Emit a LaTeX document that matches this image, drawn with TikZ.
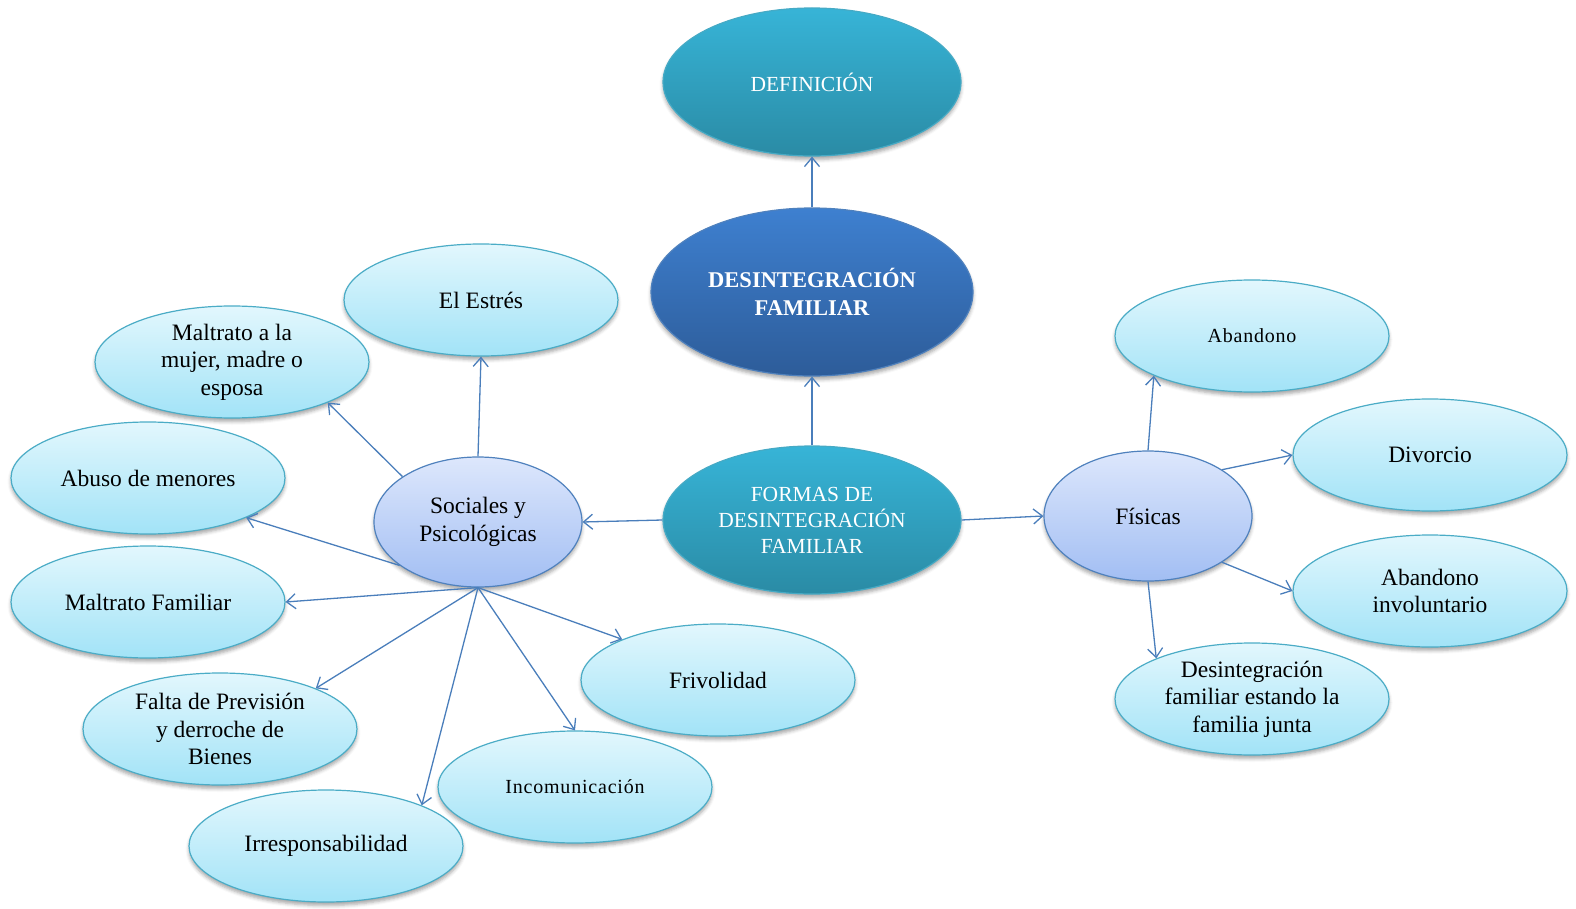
\documentclass[tikz,border=0pt]{standalone}
\usepackage{fontspec}
\setmainfont{Liberation Serif}
\usetikzlibrary{shapes.geometric,arrows.meta,shadows.blur}

\definecolor{leaftop}{HTML}{E2F7FD}
\definecolor{leafbot}{HTML}{A2E3F7}
\definecolor{leafline}{HTML}{4BACC6}
\definecolor{hubtop}{HTML}{DDE7FC}
\definecolor{hubbot}{HTML}{A2BEF3}
\definecolor{hubline}{HTML}{4F81BD}
\definecolor{tealtop}{HTML}{37B4D7}
\definecolor{tealbot}{HTML}{2A8BA5}
\definecolor{tealline}{HTML}{46AAC5}
\definecolor{coretop}{HTML}{3E80D0}
\definecolor{corebot}{HTML}{2D5C99}
\definecolor{coreline}{HTML}{4F81BD}
\definecolor{linkcol}{HTML}{4A7EBB}

\begin{document}
\begin{tikzpicture}[x=1pt,y=-1pt,
  base/.style={ellipse, inner sep=0pt, align=center, line width=1.2pt,
    blur shadow={shadow xshift=0pt, shadow yshift=-3.5pt,
      shadow blur radius=3.5pt, shadow opacity=35}},
  leaf/.style={base, minimum width=274pt, minimum height=112pt,
    draw=leafline, top color=leaftop, bottom color=leafbot,
    font=\fontsize{23.5}{27.5}\selectfont},
  spaced/.style={font=\fontsize{20}{24}\selectfont\addfontfeature{LetterSpace=4}},
  hub/.style={base, minimum width=208pt, minimum height=130pt,
    draw=hubline, top color=hubtop, bottom color=hubbot,
    font=\fontsize{23.5}{27.5}\selectfont},
  teal/.style={base, minimum width=298pt, minimum height=148pt,
    draw=tealline, top color=tealtop, bottom color=tealbot, text=white,
    font=\fontsize{21.5}{26}\selectfont},
  core/.style={base, minimum width=322pt, minimum height=168pt,
    draw=coreline, top color=coretop, bottom color=corebot, text=white,
    font=\fontsize{22.5}{28}\selectfont\bfseries},
  link/.style={draw=linkcol, line width=1.3pt,
    -{Straight Barb[length=9pt,width=15pt,line width=1.3pt]}}
]
\useasboundingbox (0,0) rectangle (1576,909);

% central column
\node[teal] (def) at (812,82) {DEFINICIÓN};
\node[core] (core) at (812,292) {DESINTEGRACIÓN\\FAMILIAR};
\node[teal] (for) at (812,520) {FORMAS DE\\DESINTEGRACIÓN\\FAMILIAR};

% the two branches
\node[hub] (soc) at (478,522) {Sociales y\\Psicológicas};
\node[hub] (fis) at (1148,516) {Físicas};

% social and psychological forms
\node[leaf] (est) at (481,300) {El Estrés};
\node[leaf] (mm) at (232,362) {Maltrato a la\\mujer, madre o\\esposa};
\node[leaf] (abu) at (148,478) {Abuso de menores};
\node[leaf] (mf) at (148,602) {Maltrato Familiar};
\node[leaf] (fal) at (220,729) {Falta de Previsión\\y derroche de\\Bienes};
\node[leaf] (irr) at (326,846) {Irresponsabilidad};
\node[leaf,spaced] (inc) at (575,787) {Incomunicación};
\node[leaf] (fri) at (718,680) {Frivolidad};

% physical forms
\node[leaf,spaced] (aba) at (1252,336) {Abandono};
\node[leaf] (div) at (1430,455) {Divorcio};
\node[leaf] (inv) at (1430,591) {Abandono\\involuntario};
\node[leaf] (jun) at (1252,699) {Desintegración\\familiar estando la\\familia junta};

% connectors
\draw[link] (core.north) -- (def.south);
\draw[link] (for.north) -- (core.south);
\draw[link] (for.west) -- (soc.east);
\draw[link] (for.east) -- (fis.west);

\draw[link] (soc.north) -- (est.south);
\draw[link] (soc.149) -- (mm.-23);
\draw[link] (soc.209) -- (abu.-22);
\draw[link] (soc.south) -- (mf.east);
\draw[link] (soc.south) -- (fal.23);
\draw[link] (soc.south) -- (irr.23);
\draw[link] (soc.south) -- (inc.north);
\draw[link] (soc.south) -- (fri.157);

\draw[link] (fis.north) -- (aba.202);
\draw[link] (fis.32) -- (div.west);
\draw[link] (fis.-32) -- (inv.west);
\draw[link] (fis.south) -- (jun.157);
\end{tikzpicture}
\end{document}
